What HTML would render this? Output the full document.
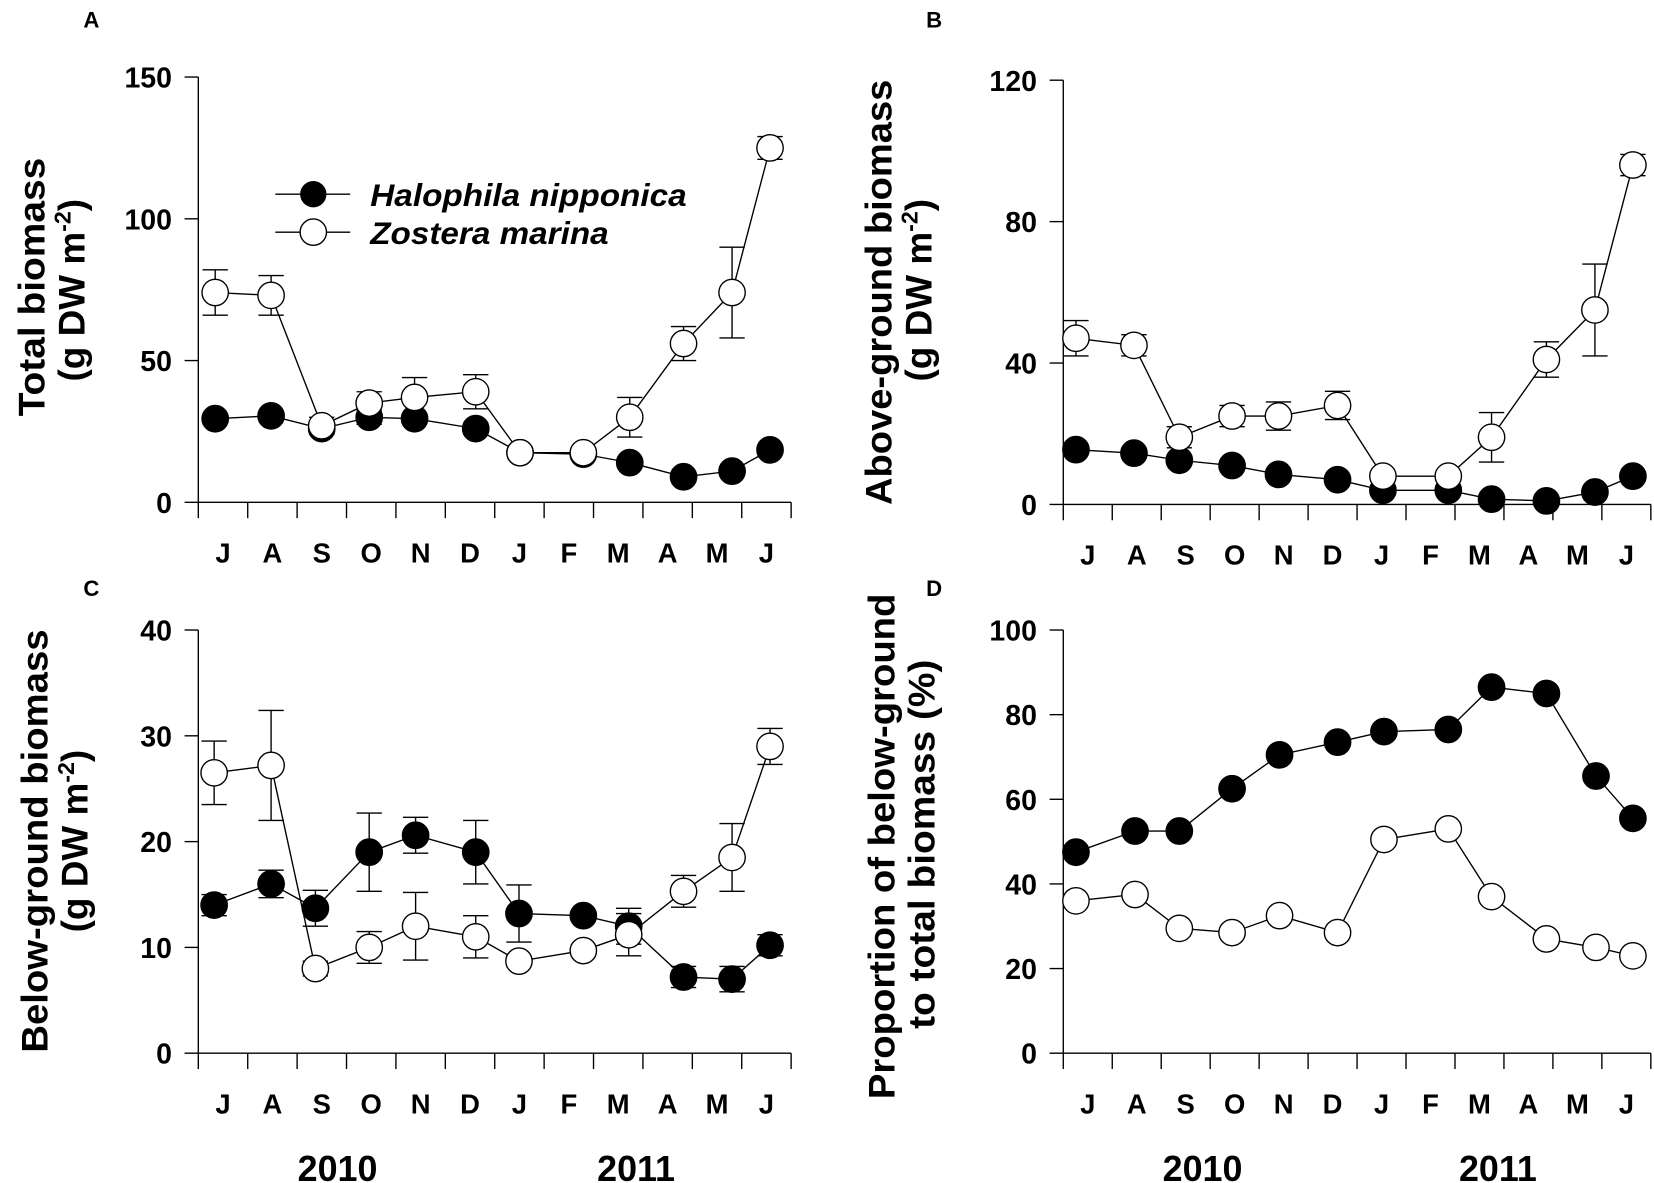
<!DOCTYPE html>
<html><head><meta charset="utf-8"><style>
html,body{margin:0;padding:0;background:#fff}
svg{display:block}
text{font-family:"Liberation Sans",Arial,sans-serif;font-weight:bold;fill:#000}
</style></head><body>
<svg id="s" width="1654" height="1183" viewBox="0 0 1568 1121" preserveAspectRatio="none" xmlns="http://www.w3.org/2000/svg">
<text x="79" y="26" font-size="21">A</text>
<text x="878" y="26" font-size="21">B</text>
<text x="79" y="565" font-size="21">C</text>
<text x="878" y="565" font-size="21">D</text>
<text transform="translate(42,272) rotate(-90)" text-anchor="middle" font-size="35" textLength="245" lengthAdjust="spacingAndGlyphs">Total biomass</text>
<text transform="translate(80,275) rotate(-90)" text-anchor="middle" font-size="35">(g DW m<tspan dy="-13" font-size="22">-2</tspan><tspan dy="13">)</tspan></text>
<text transform="translate(845,277) rotate(-90)" text-anchor="middle" font-size="35" textLength="403" lengthAdjust="spacingAndGlyphs">Above-ground biomass</text>
<text transform="translate(883,275) rotate(-90)" text-anchor="middle" font-size="35">(g DW m<tspan dy="-13" font-size="22">-2</tspan><tspan dy="13">)</tspan></text>
<text transform="translate(45,797) rotate(-90)" text-anchor="middle" font-size="35" textLength="401" lengthAdjust="spacingAndGlyphs">Below-ground biomass</text>
<text transform="translate(83,797) rotate(-90)" text-anchor="middle" font-size="35">(g DW m<tspan dy="-13" font-size="22">-2</tspan><tspan dy="13">)</tspan></text>
<text transform="translate(848,802) rotate(-90)" text-anchor="middle" font-size="35" textLength="479" lengthAdjust="spacingAndGlyphs">Proportion of below-ground</text>
<text transform="translate(886,800) rotate(-90)" text-anchor="middle" font-size="35" textLength="350" lengthAdjust="spacingAndGlyphs">to total biomass (%)</text>
<text x="320" y="1119" text-anchor="middle" font-size="34">2010</text>
<text x="603" y="1119" text-anchor="middle" font-size="34">2011</text>
<text x="1140" y="1119" text-anchor="middle" font-size="34">2010</text>
<text x="1420" y="1119" text-anchor="middle" font-size="34">2011</text>
<line x1="261" y1="184" x2="332" y2="184" stroke="#000" stroke-width="1.3"/>
<circle cx="297" cy="184" r="12.5" fill="#000"/>
<line x1="261" y1="220" x2="332" y2="220" stroke="#000" stroke-width="1.3"/>
<circle cx="297" cy="220" r="12.5" fill="#fff" stroke="#000" stroke-width="1.3"/>
<text x="351" y="195" font-size="29.5" font-style="italic" textLength="300" lengthAdjust="spacingAndGlyphs">Halophila nipponica</text>
<text x="351" y="231" font-size="29.5" font-style="italic" textLength="226" lengthAdjust="spacingAndGlyphs">Zostera marina</text>
<g id="g"></g>
</svg>
<script>
var NS="http://www.w3.org/2000/svg",g=document.getElementById("g");
function el(t,a,txt){var e=document.createElementNS(NS,t);for(var k in a)e.setAttribute(k,a[k]);if(txt!==undefined)e.textContent=txt;g.appendChild(e);return e;}
var M=["J","A","S","O","N","D","J","F","M","A","M","J"];
function panel(p){
 var x0=p.x0,x1=p.x1,y0=p.y0,y1=p.y1,max=p.max;
 function Y(v){return y0-(v/max)*(y0-y1);}
 el("line",{x1:x0,y1:y1,x2:x0,y2:y0,stroke:"#000","stroke-width":1.3});
 el("line",{x1:x0,y1:y0,x2:x1,y2:y0,stroke:"#000","stroke-width":1.3});
 var w=(x1-x0)/12;
 for(var i=0;i<=12;i++){el("line",{x1:x0+i*w,y1:y0,x2:x0+i*w,y2:y0+15,stroke:"#000","stroke-width":1.3});}
 for(i=0;i<12;i++)el("text",{x:x0+(i+0.5)*w,y:y0+57,"text-anchor":"middle","font-size":26},M[i]);
 p.ticks.forEach(function(t){var y=Y(t);el("line",{x1:x0-13,y1:y,x2:x0,y2:y,stroke:"#000","stroke-width":1.3});el("text",{x:x0-25,y:y+10,"text-anchor":"end","font-size":27},t);});
 function series(v,e,fill){
  var pts=v.map(function(d,i){return p.px[i]+","+Y(d);}).join(" ");
  el("polyline",{points:pts,fill:"none",stroke:"#000","stroke-width":1.3});
  return function(){
  v.forEach(function(d,i){if(e&&e[i]){var x=p.px[i],a=Y(d+e[i]),b=Y(d-e[i]);
   el("line",{x1:x,y1:a,x2:x,y2:b,stroke:"#000","stroke-width":1.3});
   el("line",{x1:x-12,y1:a,x2:x+12,y2:a,stroke:"#000","stroke-width":1.3});
   el("line",{x1:x-12,y1:b,x2:x+12,y2:b,stroke:"#000","stroke-width":1.3});}});
  v.forEach(function(d,i){el("circle",{cx:p.px[i],cy:Y(d),r:12.5,fill:fill,stroke:"#000","stroke-width":1.3});});};
 }
 var a=series(p.h,p.he,"#000"),b=series(p.z,p.ze,"#fff");a();b();
}
var pxL=[204,257,305,350,393,451,493,553,597,648,694,730];
var pxR=[1020,1075,1118,1168,1212,1268,1311,1373,1414,1466,1512,1548];
panel({x0:188,x1:750,y0:476,y1:73,max:150,ticks:[0,50,100,150],px:pxL,
 h:[29.5,30.5,26,30,29.5,26,17.5,17,14,9,11,18.5],he:[1.5,1.5,2,2.5,1.5,2,1,1,1.5,1,1.5,1.5],
 z:[74,73,27,35,37,39,17.5,17.5,30,56,74,125],ze:[8,7,3,4,7,6,2,1,7,6,16,4]});
panel({x0:1008,x1:1565,y0:478,y1:76,max:120,ticks:[0,40,80,120],px:pxR,
 h:[15.5,14.5,12.5,11,8.5,7,4,4,1.5,1,3.5,8],he:[1,1,1,1,1,1,1,1,0.5,0.5,1,1],
 z:[47,45,19,25,25,28,8,8,19,41,55,96],ze:[5,3,3,3,4,4,1,1,7,5,13,3]});
panel({x0:188,x1:750,y0:998,y1:597,max:40,ticks:[0,10,20,30,40],px:[203,257,299,350,394,451,492,553,596,648,694,730],
 h:[14,16,13.7,19,20.6,19,13.2,13,12,7.2,7,10.2],he:[1,1.3,1.7,3.7,1.7,3,2.7,0.5,1.7,1,1.2,1],
 z:[26.5,27.2,8,10,12,11,8.7,9.7,11.2,15.3,18.5,29],ze:[3,5.2,0.7,1.5,3.2,2,0.5,0.5,2,1.5,3.2,1.7]});
panel({x0:1008,x1:1565,y0:998,y1:597,max:100,ticks:[0,20,40,60,80,100],px:[1020,1076,1118,1168,1213,1268,1312,1373,1414,1466,1513,1548],
 h:[47.5,52.5,52.5,62.5,70.5,73.5,76,76.5,86.5,85,65.5,55.5],
 z:[36,37.5,29.5,28.5,32.5,28.5,50.5,53,37,27,25,23]});
</script>
</body></html>
